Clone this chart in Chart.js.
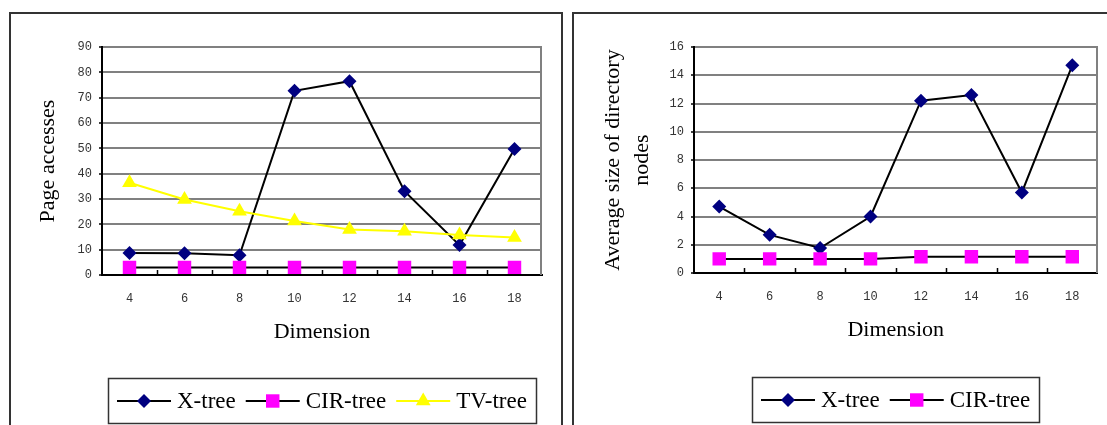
<!DOCTYPE html>
<html>
<head>
<meta charset="utf-8">
<title>Page accesses and directory node size by dimension</title>
<script src="https://cdn.jsdelivr.net/npm/chart.js@4/dist/chart.umd.min.js"></script>
<style>
  html, body { margin: 0; padding: 0; background: #fff; }
  body { width: 1107px; height: 425px; overflow: hidden; position: relative; }
  .panel { position: absolute; top: 12px; height: 440px; border: 2px solid #333; box-sizing: border-box; }
  #panelLeft { left: 9px; width: 554px; }
  #panelRight { left: 572px; width: 560px; }
  canvas { position: absolute; }
  #chartLeft { left: 10px; top: 13px; }
  #chartRight { left: 573px; top: 13px; }
</style>
</head>
<body>
<div class="panel" id="panelLeft"></div>
<div class="panel" id="panelRight"></div>
<canvas id="chartLeft" width="551" height="412"></canvas>
<canvas id="chartRight" width="534" height="412"></canvas>
<script>
// Dimensions on the x axis
const dimensions = ['4', '6', '8', '10', '12', '14', '16', '18'];

// Page accesses per query
const pageXTree   = [8.7, 8.6, 7.8, 72.7, 76.5, 33.1, 11.8, 49.7];
const pageCirTree = [3, 3, 3, 3, 3, 3, 3, 3];
const pageTvTree  = [36.4, 29.8, 25.2, 21.3, 18.0, 17.3, 15.8, 14.8];

// Average size of directory nodes
const nodeXTree   = [4.7, 2.7, 1.77, 4.0, 12.2, 12.6, 5.7, 14.7];
const nodeCirTree = [1.0, 1.0, 1.0, 1.0, 1.15, 1.15, 1.15, 1.15];

// Value axis ranges: [min, max, step]
const pageAxis = [0, 90, 10];
const nodeAxis = [0, 16, 2];

const seriesNames = ['X-tree', 'CIR-tree', 'TV-tree'];

const tickFont  = { family: "'Liberation Mono', 'DejaVu Sans Mono', monospace", size: 12 };
const titleFont = { family: "'Liberation Serif', 'DejaVu Serif', serif", size: 22 };

function xTreeSet(values) {
  return {
    label: seriesNames[0], data: values, order: 2,
    borderColor: '#000000', borderWidth: 2,
    pointStyle: 'rectRot', pointRadius: 7,
    pointBackgroundColor: '#000080', pointBorderWidth: 0, pointBorderColor: '#000080'
  };
}
function cirTreeSet(values) {
  return {
    label: seriesNames[1], data: values, order: 1,
    borderColor: '#000000', borderWidth: 2,
    pointStyle: 'rect', pointRadius: 9.5,
    pointBackgroundColor: '#FF00FF', pointBorderWidth: 0, pointBorderColor: '#FF00FF'
  };
}
function tvTreeSet(values) {
  return {
    label: seriesNames[2], data: values, order: 0,
    borderColor: '#FFFF00', borderWidth: 2,
    pointStyle: 'triangle', pointRadius: 8.5,
    pointBackgroundColor: '#FFFF00', pointBorderWidth: 0, pointBorderColor: '#FFFF00'
  };
}

// Plot frame: gray right edge and short inward tick marks between categories
const plotFrame = {
  id: 'plotFrame',
  beforeDatasetsDraw(chart) {
    const { ctx, chartArea, scales } = chart;
    ctx.save();
    ctx.strokeStyle = '#808080';
    ctx.lineWidth = 2;
    ctx.beginPath();
    ctx.moveTo(Math.round(chartArea.right) - 1, chartArea.top - 1);
    ctx.lineTo(Math.round(chartArea.right) - 1, chartArea.bottom);
    ctx.stroke();
    const xs = scales.x;
    ctx.strokeStyle = '#000';
    ctx.lineWidth = 1.5;
    ctx.beginPath();
    for (let i = 1; i < xs.ticks.length; i++) {
      const px = Math.round((xs.getPixelForTick(i - 1) + xs.getPixelForTick(i)) / 2) + 0.5;
      ctx.moveTo(px, chartArea.bottom);
      ctx.lineTo(px, chartArea.bottom - 5);
    }
    ctx.stroke();
    ctx.restore();
  }
};

// Boxed legend with a line sample and marker per series
const lineLegend = {
  id: 'lineLegend',
  afterDraw(chart, args, opts) {
    const { ctx, chartArea } = chart;
    const sets = chart.data.datasets;
    ctx.save();
    ctx.font = opts.fontSize + 'px ' + opts.fontFamily;
    const widths = sets.map(ds => ctx.measureText(ds.label).width);
    let total = opts.padding * 2 + opts.itemGap * (sets.length - 1);
    widths.forEach(w => { total += opts.sampleWidth + opts.textGap + w; });
    const x0 = Math.round((chartArea.left + chartArea.right) / 2 - total / 2);
    const y0 = opts.top;
    ctx.strokeStyle = '#333';
    ctx.lineWidth = 1.5;
    ctx.strokeRect(x0 + 0.5, y0 + 0.5, Math.round(total), opts.height);
    const cy = y0 + opts.height / 2 + 0.5;
    let x = x0 + opts.padding;
    sets.forEach((ds, i) => {
      ctx.strokeStyle = ds.borderColor;
      ctx.lineWidth = ds.borderWidth;
      ctx.beginPath();
      ctx.moveTo(x, Math.round(cy));
      ctx.lineTo(x + opts.sampleWidth, Math.round(cy));
      ctx.stroke();
      ctx.fillStyle = ds.pointBackgroundColor;
      Chart.helpers.drawPoint(ctx, { pointStyle: ds.pointStyle, radius: ds.pointRadius, rotation: 0, borderWidth: 0 },
        x + opts.sampleWidth / 2, Math.round(cy));
      x += opts.sampleWidth + opts.textGap;
      ctx.fillStyle = '#000';
      ctx.textBaseline = 'middle';
      ctx.textAlign = 'left';
      ctx.fillText(ds.label, x, cy + 1);
      x += widths[i] + opts.itemGap;
    });
    ctx.restore();
  }
};

function buildChart(canvasId, datasets, axis, yTitle, geom) {
  return new Chart(document.getElementById(canvasId), {
    type: 'line',
    data: { labels: dimensions, datasets: datasets },
    plugins: [plotFrame, lineLegend],
    options: {
      responsive: false,
      animation: false,
      devicePixelRatio: 1,
      layout: { padding: { left: 0, top: geom.top, right: geom.right, bottom: geom.bottom } },
      elements: { line: { tension: 0 } },
      plugins: {
        legend: { display: false },
        tooltip: { enabled: false },
        lineLegend: {
          top: geom.legendTop, height: 45, padding: 9, sampleWidth: 54, textGap: 6, itemGap: 10,
          fontSize: 23, fontFamily: "'Liberation Serif', 'DejaVu Serif', serif"
        }
      },
      scales: {
        x: {
          type: 'category',
          offset: true,
          grid: { display: false, drawTicks: false },
          border: { display: true, color: '#000', width: 2 },
          ticks: { padding: 17, color: '#333', font: tickFont, maxRotation: 0 },
          title: { display: true, text: 'Dimension', color: '#000', font: titleFont, padding: { top: 0, bottom: 9.8 } },
          afterFit(scale) { scale.height = 80; }
        },
        y: {
          min: axis[0], max: axis[1],
          ticks: { stepSize: axis[2], padding: 7, color: '#333', font: tickFont },
          grid: { color: '#808080', lineWidth: 2, drawTicks: true, tickLength: 3, tickColor: '#000', tickWidth: 1.5 },
          border: { display: true, color: '#000', width: 2 },
          title: {
            display: true, text: yTitle, color: '#000',
            font: Object.assign({ lineHeight: geom.titleLineHeight }, titleFont),
            padding: { top: geom.titlePad, bottom: 0 }
          },
          afterFit(scale) { scale.width = geom.yWidth; }
        }
      }
    }
  });
}

buildChart('chartLeft',
  [xTreeSet(pageXTree), cirTreeSet(pageCirTree), tvTreeSet(pageTvTree)],
  pageAxis, 'Page accesses',
  { top: 34, right: 19, bottom: 70, yWidth: 92, titlePad: 24.8, titleLineHeight: 1.2, legendTop: 365 });

buildChart('chartRight',
  [xTreeSet(nodeXTree), cirTreeSet(nodeCirTree)],
  nodeAxis, ['Average size of directory', 'nodes'],
  { top: 34, right: 8, bottom: 72, yWidth: 121, titlePad: 25, titleLineHeight: 1.35, legendTop: 364 });
</script>
</body>
</html>
